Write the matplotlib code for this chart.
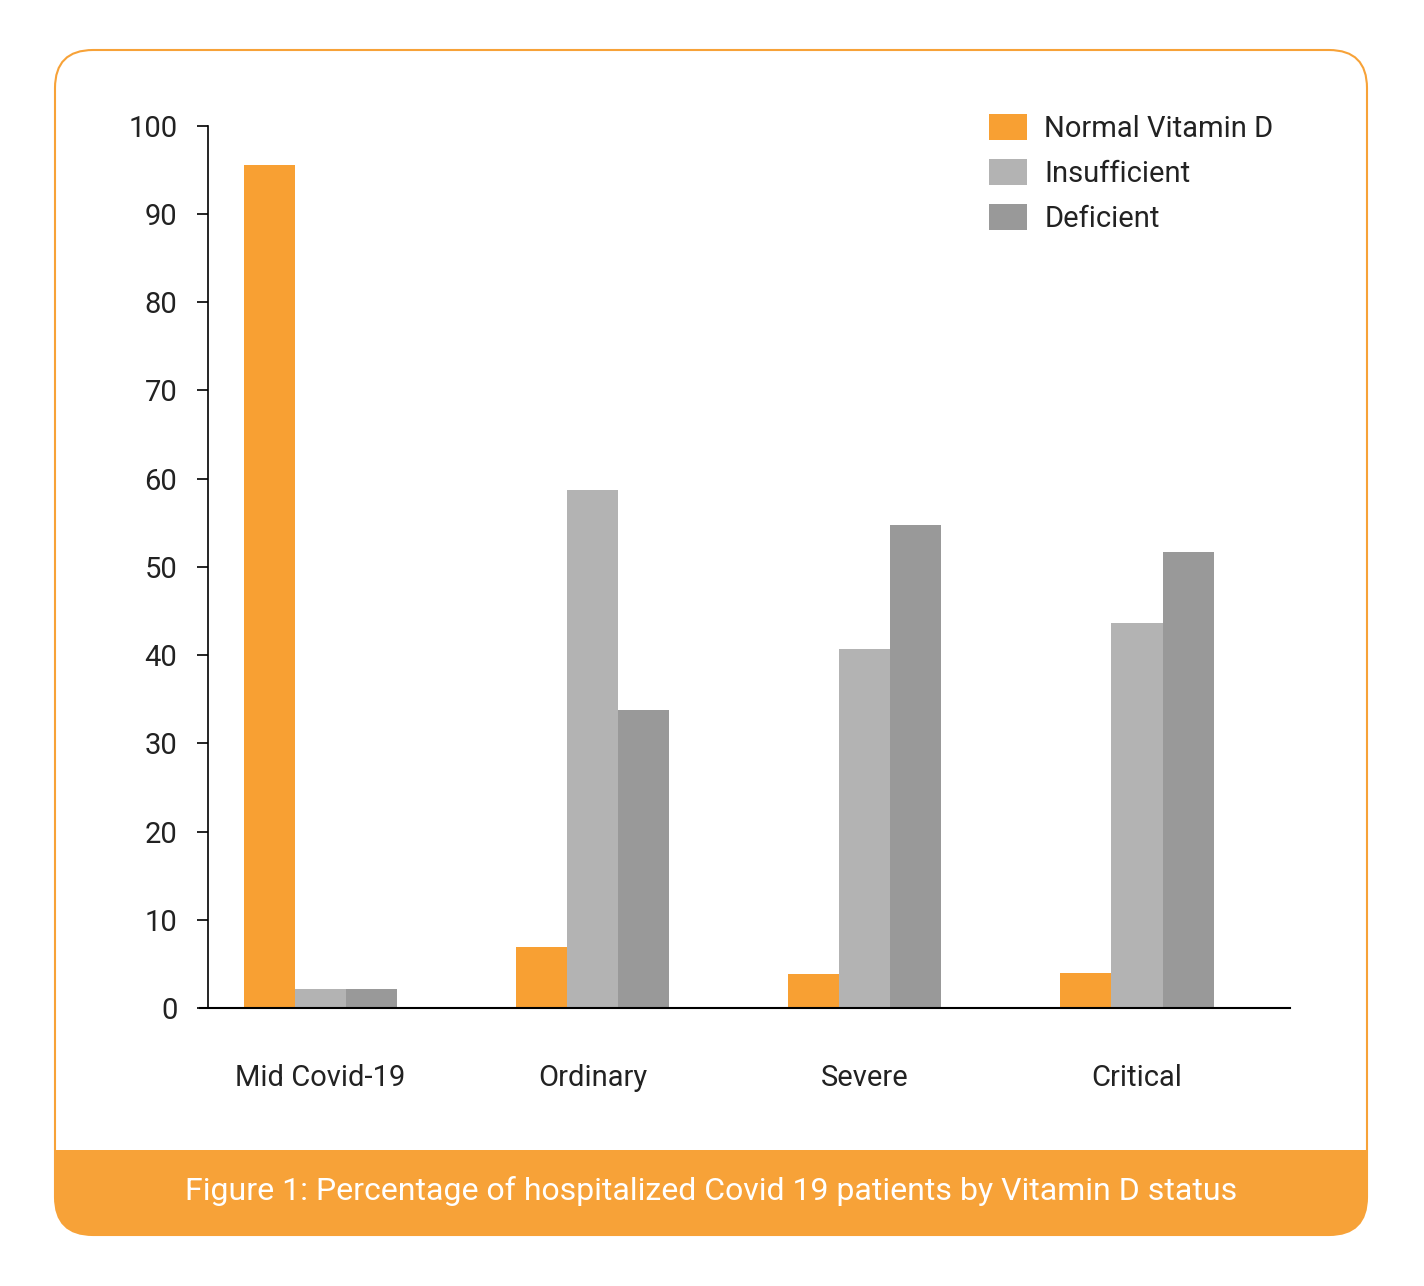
import matplotlib.pyplot as plt
import numpy as np
from matplotlib.patches import FancyBboxPatch, Rectangle

plt.rcParams['font.family'] = ['Roboto', 'DejaVu Sans']

categories = ["Mid Covid-19", "Ordinary", "Severe", "Critical"]
normal = [95.5, 6.9, 3.9, 4.0]
insufficient = [2.2, 58.7, 40.7, 43.6]
deficient = [2.2, 33.8, 54.7, 51.7]
series_names = ["Normal Vitamin D", "Insufficient", "Deficient"]
colors = ["#F8A033", "#B3B3B3", "#999999"]
orange = "#F7A238"

fig = plt.figure(figsize=(14.24, 12.86), dpi=100)

# frame drawn in pixel coords
bg = fig.add_axes([0, 0, 1, 1])
bg.set_xlim(0, 1424)
bg.set_ylim(1286, 0)
bg.axis("off")
bg.add_patch(FancyBboxPatch((55, 1100), 1312, 135, boxstyle="round,pad=0,rounding_size=38",
                            fc=orange, ec="none"))
bg.add_patch(Rectangle((56, 1090), 1310, 60, fc="white", ec="none"))
bg.add_patch(FancyBboxPatch((55, 50), 1312, 1185, boxstyle="round,pad=0,rounding_size=38",
                            fc="none", ec=orange, lw=1.5))
bg.text(711, 1191, "Figure 1: Percentage of hospitalized Covid 19 patients by Vitamin D status",
        color="white", fontsize=23, ha="center", va="center")

ax = fig.add_axes([0.146, 0.2162, 0.760, 0.686])
x = np.arange(len(categories))
w = 0.1875
for i, (vals, name, c) in enumerate(zip([normal, insufficient, deficient], series_names, colors)):
    ax.bar(x + (i - 1) * w, vals, w, color=c, label=name)

ax.set_xlim(-0.412, 3.5625)
ax.set_ylim(0, 100)
ax.set_yticks(range(0, 101, 10))
ax.set_xticks(x)
ax.set_xticklabels(categories)
ax.tick_params(axis="x", length=0, pad=40, labelsize=21, colors="#222222")
ax.tick_params(axis="y", length=8, width=1.2, pad=14, labelsize=21, labelcolor="#222222")
for s in ["top", "right"]:
    ax.spines[s].set_visible(False)
ax.spines["left"].set_linewidth(1.2)
ax.spines["bottom"].set_linewidth(1.5)
ax.spines["bottom"].set_bounds(-0.44, 3.5625)
ax.set_facecolor("none")

ax.legend(loc="upper left", bbox_to_anchor=(0.676, 0.932), bbox_transform=fig.transFigure,
          frameon=False, fontsize=21, handlelength=1.3, handleheight=1.0,
          labelspacing=0.55, handletextpad=0.6, labelcolor="#222222")

fig.savefig("out.png", dpi=100)
